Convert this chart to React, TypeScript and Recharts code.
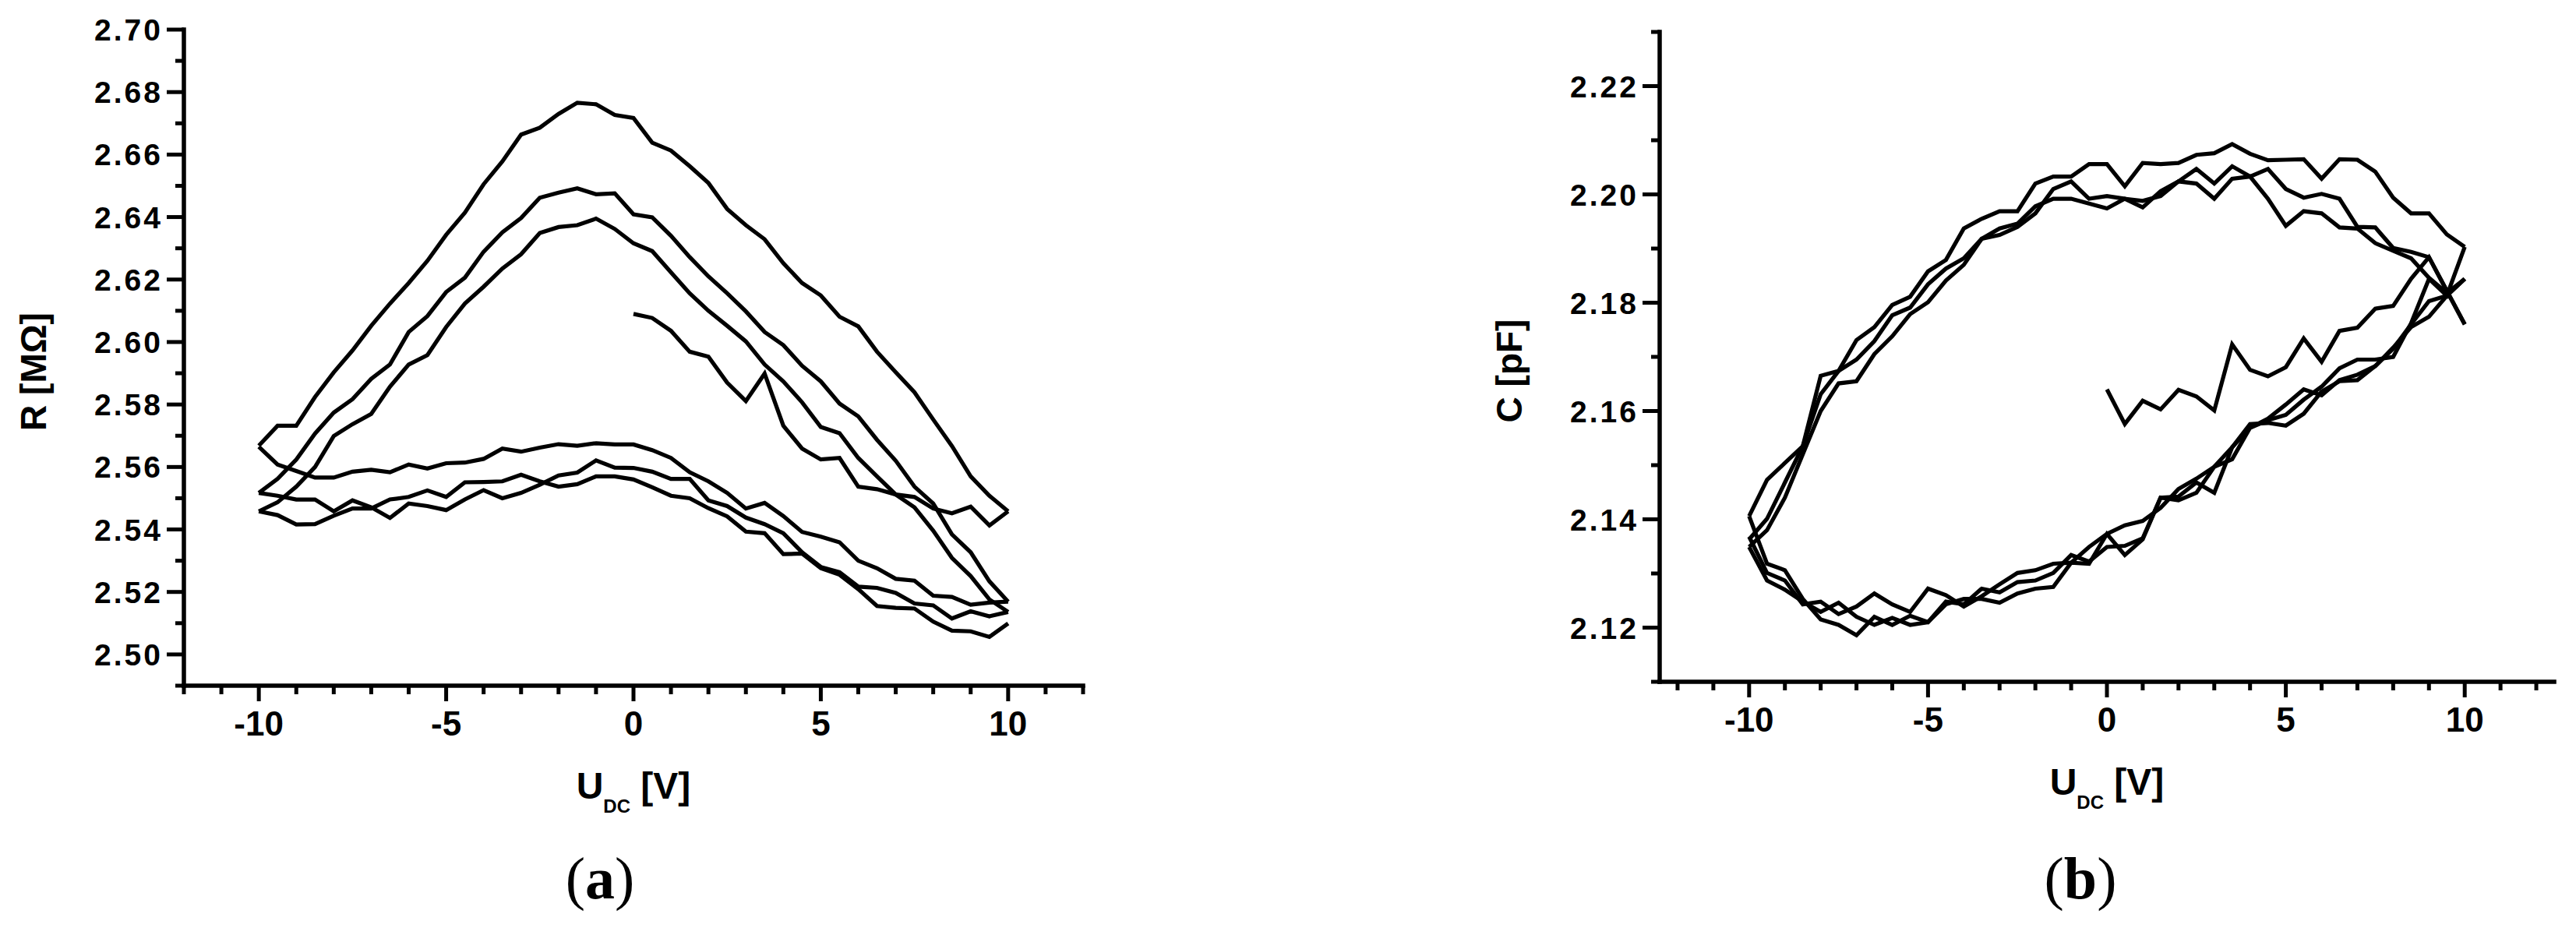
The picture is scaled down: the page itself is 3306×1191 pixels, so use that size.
import { LineChart, Line, XAxis, YAxis, Label } from 'recharts';

// sweep voltages
const U_FULL = [-10, -9.5, -9, -8.5, -8, -7.5, -7, -6.5, -6, -5.5, -5, -4.5, -4, -3.5, -3, -2.5, -2, -1.5, -1, -0.5, 0,
  0.5, 1, 1.5, 2, 2.5, 3, 3.5, 4, 4.5, 5, 5.5, 6, 6.5, 7, 7.5, 8, 8.5, 9, 9.5, 10];
const U_HALF = [0, 0.5, 1, 1.5, 2, 2.5, 3, 3.5, 4, 4.5, 5, 5.5, 6, 6.5, 7, 7.5, 8, 8.5, 9, 9.5, 10];

// ticks
const U_TICKS = [-12, -11, -10, -9, -8, -7, -6, -5, -4, -3, -2, -1, 0, 1, 2, 3, 4, 5, 6, 7, 8, 9, 10, 11, 12];
const U_LABELS = [-10, -5, 0, 5, 10];
const R_TICKS = [2.49, 2.5, 2.51, 2.52, 2.53, 2.54, 2.55, 2.56, 2.57, 2.58, 2.59, 2.6, 2.61, 2.62, 2.63, 2.64, 2.65, 2.66, 2.67, 2.68, 2.69, 2.7];
const C_TICKS = [2.11, 2.12, 2.13, 2.14, 2.15, 2.16, 2.17, 2.18, 2.19, 2.2, 2.21, 2.22, 2.23];

// (a) resistance, MOhm
const R_START = [2.609, 2.6077, 2.6036, 2.5969, 2.5953, 2.587, 2.5811, 2.5899, 2.5732, 2.5659, 2.5624, 2.5629, 2.5537, 2.5529, 2.5512, 2.5504, 2.5467, 2.5452, 2.5473, 2.5413, 2.5458];
const R_SWEEP_1 = [2.5668, 2.5732, 2.5732, 2.5824, 2.5903, 2.5973, 2.6052, 2.6123, 2.6189, 2.626, 2.6343, 2.6414, 2.6505, 2.6578, 2.6664, 2.6686, 2.673, 2.6766, 2.6761, 2.6727, 2.6717,
  2.6638, 2.6613, 2.6563, 2.6509, 2.6426, 2.6374, 2.6329, 2.6252, 2.6189, 2.6149, 2.6081, 2.605, 2.5969, 2.5903, 2.5839, 2.5752, 2.5667, 2.557, 2.5508, 2.5458];
const R_SWEEP_2 = [2.5665, 2.5608, 2.5587, 2.5566, 2.5566, 2.5585, 2.5591, 2.5583, 2.5608, 2.5595, 2.5612, 2.5614, 2.5626, 2.5659, 2.5649, 2.5662, 2.5673, 2.5668, 2.5676, 2.5672, 2.5672,
  2.5654, 2.5629, 2.5583, 2.5554, 2.5517, 2.5467, 2.5485, 2.5443, 2.5392, 2.5377, 2.5359, 2.53, 2.5276, 2.5242, 2.5236, 2.5188, 2.5184, 2.5159, 2.5166, 2.5169];
const R_SWEEP_3 = [2.5517, 2.5562, 2.5624, 2.5707, 2.5774, 2.5817, 2.5882, 2.5928, 2.6032, 2.6083, 2.616, 2.6206, 2.6289, 2.6351, 2.6397, 2.6462, 2.6478, 2.6492, 2.6473, 2.6476, 2.6409,
  2.6399, 2.634, 2.6272, 2.621, 2.6156, 2.6098, 2.6032, 2.599, 2.5924, 2.5874, 2.5803, 2.5762, 2.5687, 2.562, 2.5537, 2.5483, 2.5384, 2.5327, 2.5234, 2.5169];
const R_SWEEP_4 = [2.5517, 2.5508, 2.5496, 2.5496, 2.5458, 2.5493, 2.5471, 2.5437, 2.5483, 2.5475, 2.5462, 2.5496, 2.5526, 2.55, 2.5517, 2.5543, 2.5573, 2.5582, 2.5621, 2.5598, 2.5597,
  2.5585, 2.5562, 2.5562, 2.5493, 2.5475, 2.5438, 2.5417, 2.5388, 2.5327, 2.528, 2.5263, 2.5217, 2.5213, 2.5197, 2.5163, 2.5157, 2.5115, 2.5138, 2.5122, 2.5136];
const R_SWEEP_5 = [2.5458, 2.5487, 2.5537, 2.56, 2.5699, 2.5737, 2.577, 2.5857, 2.5928, 2.5958, 2.6048, 2.6123, 2.6177, 2.6235, 2.6281, 2.6349, 2.6368, 2.6374, 2.6395, 2.6362, 2.6316,
  2.6291, 2.6223, 2.6156, 2.61, 2.6052, 2.6002, 2.5928, 2.5874, 2.5807, 2.5728, 2.5708, 2.5629, 2.557, 2.5512, 2.5471, 2.5396, 2.5309, 2.5251, 2.5176, 2.5136];
const R_SWEEP_6 = [2.5458, 2.5446, 2.5416, 2.5417, 2.5444, 2.5467, 2.5467, 2.5496, 2.5504, 2.5525, 2.5504, 2.5551, 2.5552, 2.5554, 2.5575, 2.5554, 2.5537, 2.5545, 2.557, 2.557, 2.556,
  2.5535, 2.5508, 2.55, 2.5468, 2.5442, 2.5393, 2.5388, 2.5321, 2.5323, 2.5276, 2.5255, 2.5209, 2.5155, 2.5149, 2.5147, 2.5105, 2.5076, 2.5074, 2.5056, 2.5099];

// (b) capacitance, pF
const C_START = [2.164, 2.1576, 2.1619, 2.1603, 2.1639, 2.1627, 2.1601, 2.1723, 2.1676, 2.1664, 2.1681, 2.1734, 2.1691, 2.1748, 2.1754, 2.1789, 2.1794, 2.1844, 2.1884, 2.1822, 2.176];
const C_SWEEP_1 = [2.1363, 2.1401, 2.1468, 2.1535, 2.1631, 2.1674, 2.1695, 2.1729, 2.1777, 2.1791, 2.1834, 2.1863, 2.1882, 2.1918, 2.1925, 2.194, 2.1965, 2.201, 2.2024, 2.1992, 2.1997,
  2.1992, 2.1976, 2.2006, 2.2024, 2.2047, 2.202, 2.2052, 2.2033, 2.2047, 2.201, 2.1994, 2.2001, 2.1992, 2.194, 2.1939, 2.1901, 2.1894, 2.1884, 2.1822, 2.176];
const C_SWEEP_2 = [2.1368, 2.1301, 2.1287, 2.1243, 2.1248, 2.1225, 2.1239, 2.1263, 2.1243, 2.1229, 2.1272, 2.126, 2.1239, 2.1258, 2.128, 2.1301, 2.1306, 2.1318, 2.132, 2.1349, 2.1373,
  2.1389, 2.1397, 2.1421, 2.1456, 2.1475, 2.1497, 2.1533, 2.1569, 2.1586, 2.1612, 2.164, 2.1629, 2.1657, 2.1667, 2.1683, 2.1717, 2.1755, 2.1774, 2.1813, 2.1844];
const C_SWEEP_3 = [2.1349, 2.138, 2.144, 2.152, 2.16, 2.1651, 2.1655, 2.1705, 2.1738, 2.1779, 2.1801, 2.1841, 2.187, 2.1918, 2.1937, 2.1946, 2.1978, 2.1992, 2.1992, 2.1983, 2.1974,
  2.1992, 2.1988, 2.1997, 2.2024, 2.202, 2.1992, 2.2029, 2.2033, 2.1992, 2.1942, 2.1969, 2.1965, 2.1939, 2.1937, 2.191, 2.1896, 2.1882, 2.1846, 2.1818, 2.1844];
const C_SWEEP_4 = [2.1349, 2.1287, 2.127, 2.1248, 2.1229, 2.1246, 2.122, 2.1205, 2.1218, 2.1205, 2.121, 2.1248, 2.1243, 2.1272, 2.1265, 2.1284, 2.1287, 2.1301, 2.1334, 2.1322, 2.1349,
  2.1351, 2.1365, 2.144, 2.1435, 2.1449, 2.1497, 2.1511, 2.1569, 2.1583, 2.1593, 2.1621, 2.1645, 2.1679, 2.1695, 2.1695, 2.17, 2.1762, 2.1844, 2.1813, 2.1903];
const C_SWEEP_5 = [2.1406, 2.1473, 2.1504, 2.1535, 2.1665, 2.1674, 2.1731, 2.1755, 2.1796, 2.1811, 2.1858, 2.1879, 2.1937, 2.1955, 2.1969, 2.1969, 2.202, 2.2033, 2.2033, 2.2056, 2.2056,
  2.2015, 2.2058, 2.2056, 2.2058, 2.2073, 2.2076, 2.2093, 2.2075, 2.2063, 2.2064, 2.2065, 2.2029, 2.2065, 2.2064, 2.2042, 2.1994, 2.1965, 2.1965, 2.1926, 2.1903];
const C_SWEEP_6 = [2.1406, 2.1318, 2.1306, 2.1253, 2.1215, 2.1205, 2.1186, 2.122, 2.1205, 2.1222, 2.121, 2.1243, 2.1253, 2.1253, 2.1246, 2.1263, 2.1272, 2.1275, 2.132, 2.1318, 2.1373,
  2.1334, 2.1363, 2.144, 2.1442, 2.1468, 2.1449, 2.1533, 2.1576, 2.1578, 2.1573, 2.1595, 2.1636, 2.1655, 2.1657, 2.1683, 2.1715, 2.176, 2.1803, 2.1813, 2.1844];

const rows = (us: number[], vs: number[]) => us.map((u, i) => ({ u, v: vs[i] }));

const R_SERIES = [rows(U_HALF, R_START), rows(U_FULL, R_SWEEP_1), rows(U_FULL, R_SWEEP_2), rows(U_FULL, R_SWEEP_3),
  rows(U_FULL, R_SWEEP_4), rows(U_FULL, R_SWEEP_5), rows(U_FULL, R_SWEEP_6)];
const C_SERIES = [rows(U_HALF, C_START), rows(U_FULL, C_SWEEP_1), rows(U_FULL, C_SWEEP_2), rows(U_FULL, C_SWEEP_3),
  rows(U_FULL, C_SWEEP_4), rows(U_FULL, C_SWEEP_5), rows(U_FULL, C_SWEEP_6)];

const FONT = "'Liberation Sans', Arial, sans-serif";
const AXIS = { stroke: '#000', strokeWidth: 5.5, strokeLinecap: 'square' as const };

const BottomTick = (p: any) => {
  const v = p.payload.value;
  const major = U_LABELS.includes(v);
  return (
    <g>
      <line x1={p.x} x2={p.x} y1={p.y} y2={p.y + (major ? 20 : 11)} stroke="#000" strokeWidth={5} />
      {major && (
        <text x={p.x} y={p.y + 64} textAnchor="middle" fontFamily={FONT} fontWeight="bold" fontSize={44} fill="#000">
          {v}
        </text>
      )}
    </g>
  );
};

const TopTick = (p: any) => {
  const major = U_LABELS.includes(p.payload.value);
  return <line x1={p.x} x2={p.x} y1={p.y} y2={p.y + (major ? 18 : 9)} stroke="#000" strokeWidth={5} />;
};

const LeftTick = (p: any) => {
  const v = p.payload.value;
  const major = Math.round(v * 100) % 2 === 0;
  return (
    <g>
      <line x1={p.x - (major ? 22 : 11)} x2={p.x} y1={p.y} y2={p.y} stroke="#000" strokeWidth={5} />
      {major && (
        <text x={p.x - 27} y={p.y + 14} textAnchor="end" fontFamily={FONT} fontWeight="bold" fontSize={39}
          letterSpacing={3} fill="#000">
          {v.toFixed(2)}
        </text>
      )}
    </g>
  );
};

const xTitle = (props: any) => {
  const { x, y, width } = props.viewBox;
  return (
    <text x={x + width / 2} y={y + 145} textAnchor="middle" fontFamily={FONT} fontWeight="bold" fontSize={48} fill="#000">
      U<tspan fontSize={24} dy={18}>DC</tspan><tspan dy={-18}> [V]</tspan>
    </text>
  );
};

const yTitle = (text: string) => (props: any) => {
  const { x, y, width, height } = props.viewBox;
  const cx = x + width - 193;
  const cy = y + height / 2 + 18;
  return (
    <text x={cx} y={cy} transform={`rotate(-90 ${cx} ${cy})`} textAnchor="middle" dy={16}
      fontFamily={FONT} fontWeight="bold" fontSize={46} fill="#000">
      {text}
    </text>
  );
};

type PanelProps = {
  series: { u: number; v: number }[][];
  yTicks: number[];
  yDomain: [number, number];
  xDomain: [number, number];
  width: number;
  margin: { top: number; right: number; bottom: number; left: number };
  yLabel: string;
};

const Panel = ({ series, yTicks, yDomain, xDomain, width, margin, yLabel }: PanelProps) => (
  <LineChart width={width} height={1191} margin={margin}>
    <XAxis dataKey="u" type="number" domain={xDomain} ticks={U_TICKS} allowDataOverflow interval={0}
      height={100} axisLine={AXIS} tickLine={false} tickSize={0} tickMargin={0} tick={BottomTick}>
      <Label content={xTitle} />
    </XAxis>
    <XAxis xAxisId="top" orientation="top" dataKey="u" type="number" domain={xDomain} ticks={U_TICKS} allowDataOverflow
      interval={0} height={0} axisLine={AXIS} tickLine={false} tickSize={0} tickMargin={0} tick={TopTick} />
    <YAxis type="number" domain={yDomain} ticks={yTicks} allowDataOverflow interval={0} width={150}
      axisLine={AXIS} tickLine={false} tickSize={0} tickMargin={0} tick={LeftTick}>
      <Label content={yTitle(yLabel)} />
    </YAxis>
    <YAxis yAxisId="right" orientation="right" type="number" domain={yDomain} allowDataOverflow width={0}
      axisLine={AXIS} tickLine={false} tick={false} />
    {series.map((d, i) => (
      <Line key={i} data={d} dataKey="v" type="linear" stroke="#000" strokeWidth={5.2} dot={false}
        activeDot={false} isAnimationActive={false} legendType="none" strokeLinejoin="miter" />
    ))}
  </LineChart>
);

const caption = (letter: string, cx: number) => (
  <div style={{ position: 'absolute', left: cx - 100, top: 1089, width: 200, textAlign: 'center',
    fontFamily: "'Liberation Serif', 'Times New Roman', serif", fontSize: 76, lineHeight: '76px', color: '#000' }}>
    (<b>{letter}</b>)
  </div>
);

export default function App() {
  return (
    <div style={{ position: 'absolute', left: 0, top: 0, width: 3306, height: 1191, background: '#fff', overflow: 'hidden' }}>
      <div style={{ position: 'absolute', left: 0, top: 0 }}>
        <Panel series={R_SERIES} yTicks={R_TICKS} yDomain={[2.49, 2.7]} xDomain={[-12, 12]} width={1450}
          margin={{ top: 38, right: 60, bottom: 211, left: 86 }} yLabel="R [MΩ]" />
      </div>
      <div style={{ position: 'absolute', left: 1700, top: 0 }}>
        <Panel series={C_SERIES} yTicks={C_TICKS} yDomain={[2.11, 2.23]} xDomain={[-12.5, 12.5]} width={1606}
          margin={{ top: 41, right: 28, bottom: 216, left: 280 }} yLabel="C [pF]" />
      </div>
      {caption('a', 770)}
      {caption('b', 2670)}
    </div>
  );
}
